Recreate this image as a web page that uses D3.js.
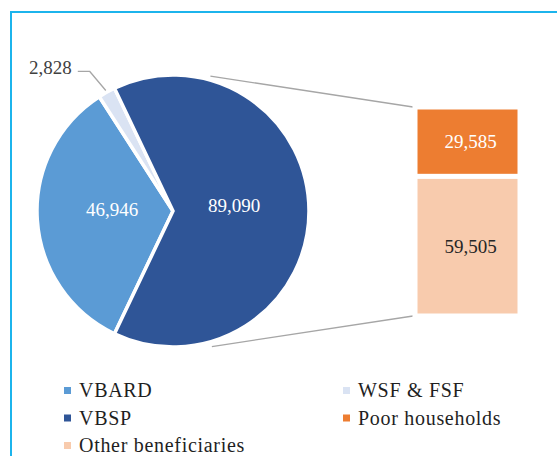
<!DOCTYPE html>
<html lang="en">

<head>
    <meta charset="UTF-8" />
    <title>Pie of bar</title>
    <script src="https://cdn.jsdelivr.net/npm/d3@7"></script>
    <style>
        body { margin: 0; background: #fff; }
        svg { display: block; }
    </style>
</head>

<body>
    <svg width="557" height="456" font-family="'Liberation Serif', 'DejaVu Serif', serif"></svg>
    <script>
        // pie: main slices
        const pieCats = ["VBARD", "VBSP", "WSF & FSF"];
        const pieVals = [46946, 89090, 2828];
        // bar: VBSP split
        const barCats = ["Poor households", "Other beneficiaries"];
        const barVals = [29585, 59505];
        const legendOrder = ["VBARD", "WSF & FSF", "VBSP", "Poor households", "Other beneficiaries"];

        const colors = {
            "VBARD": "#5b9bd5",
            "VBSP": "#2f5597",
            "WSF & FSF": "#dae3f3",
            "Poor households": "#ed7d31",
            "Other beneficiaries": "#f8cbad"
        };
        const fmt = d3.format(",");

        const svg = d3.select("svg");

        // frame
        svg.append("rect")
            .attr("x", 11).attr("y", 12)
            .attr("width", 600).attr("height", 500)
            .attr("fill", "none")
            .attr("stroke", "#1cb4ec")
            .attr("stroke-width", 2);

        const cx = 173, cy = 211, r = 136;
        const total = d3.sum(pieVals);
        const splitSpan = 2 * Math.PI * pieVals[1] / total;

        // clockwise: VBARD, WSF & FSF, then VBSP centred on the right
        const slices = [0, 2, 1].map(i => ({ cat: pieCats[i], value: pieVals[i] }));
        const pie = d3.pie().sort(null).value(d => d.value)
            .startAngle(Math.PI / 2 + splitSpan / 2)
            .endAngle(Math.PI / 2 + splitSpan / 2 + 2 * Math.PI);
        const arcs = pie(slices);

        const arc = d3.arc().innerRadius(0).outerRadius(r);
        const labelArc = d3.arc().innerRadius(61).outerRadius(61);

        const g = svg.append("g").attr("transform", `translate(${cx},${cy})`);

        // series lines to the bar
        const y = d3.scaleLinear().domain([0, d3.sum(barVals)]).range([107, 316]);
        const barX = 415, barW = 105;
        const topPt = d3.pointRadial(15.5 * Math.PI / 180, r + 4);
        const botPt = d3.pointRadial(164 * Math.PI / 180, r + 5);
        svg.append("g")
            .attr("stroke", "#a6a6a6")
            .attr("stroke-width", 1.3)
            .selectAll("line")
            .data([[topPt, y(0)], [botPt, y(d3.sum(barVals))]])
            .join("line")
            .attr("x1", d => cx + d[0][0])
            .attr("y1", d => cy + d[0][1])
            .attr("x2", barX - 2)
            .attr("y2", d => d[1]);

        g.selectAll("path.slice")
            .data(arcs)
            .join("path")
            .attr("class", "slice")
            .attr("d", arc)
            .attr("fill", d => colors[d.data.cat])
            .attr("stroke", "#fff")
            .attr("stroke-width", 3.5)
            .attr("stroke-linejoin", "miter");

        // inside labels
        g.selectAll("text.inlab")
            .data(arcs.filter(d => d.data.cat !== "WSF & FSF"))
            .join("text")
            .attr("class", "inlab")
            .attr("x", d => labelArc.centroid(d)[0])
            .attr("y", d => labelArc.centroid(d)[1])
            .attr("dy", "0.05em")
            .attr("text-anchor", "middle")
            .attr("font-size", 19)
            .attr("fill", "#fff")
            .text(d => fmt(d.data.value));

        // outside label with leader for the small slice
        const small = arcs.find(d => d.data.cat === "WSF & FSF");
        const mid = (small.startAngle + small.endAngle) / 2;
        const end = d3.pointRadial(mid, r + 2);
        const elbow = [end[0] - 16, end[1] - 19];
        const start = [elbow[0] - 12, elbow[1]];
        g.append("polyline")
            .attr("points", [start, elbow, end].map(p => p.join(",")).join(" "))
            .attr("fill", "none")
            .attr("stroke", "#a6a6a6")
            .attr("stroke-width", 1.3);
        g.append("text")
            .attr("x", start[0] - 6)
            .attr("y", start[1] + 3)
            .attr("text-anchor", "end")
            .attr("font-size", 19)
            .attr("fill", "#404040")
            .text(fmt(small.data.value));

        // stacked bar
        let acc = 0;
        const segs = barCats.map((c, i) => {
            const s = { cat: c, value: barVals[i], y0: acc, y1: acc + barVals[i] };
            acc += barVals[i];
            return s;
        });
        const bar = svg.append("g");
        bar.selectAll("rect")
            .data(segs)
            .join("rect")
            .attr("x", barX)
            .attr("width", barW)
            .attr("y", d => y(d.y0))
            .attr("height", d => y(d.y1) - y(d.y0))
            .attr("fill", d => colors[d.cat])
            .attr("stroke", "#fff")
            .attr("stroke-width", 5);
        bar.selectAll("text")
            .data(segs)
            .join("text")
            .attr("x", barX + barW / 2 + 3)
            .attr("y", d => (y(d.y0) + y(d.y1)) / 2)
            .attr("dy", "0.35em")
            .attr("text-anchor", "middle")
            .attr("font-size", 19)
            .attr("fill", (d, i) => i === 0 ? "#fff" : "#262626")
            .text(d => fmt(d.value));

        // legend, two columns
        const legend = svg.append("g")
            .attr("font-size", 20)
            .attr("letter-spacing", 0.7)
            .attr("fill", "#1f1f1f");
        const item = legend.selectAll("g")
            .data(legendOrder)
            .join("g")
            .attr("transform", (d, i) => `translate(${i % 2 === 0 ? 64 : 343},${397 + Math.floor(i / 2) * 27.5})`);
        item.append("rect")
            .attr("x", 0).attr("y", -10)
            .attr("width", 7).attr("height", 7)
            .attr("fill", d => colors[d]);
        item.append("text")
            .attr("x", 15)
            .text(d => d);
    </script>
</body>

</html>
